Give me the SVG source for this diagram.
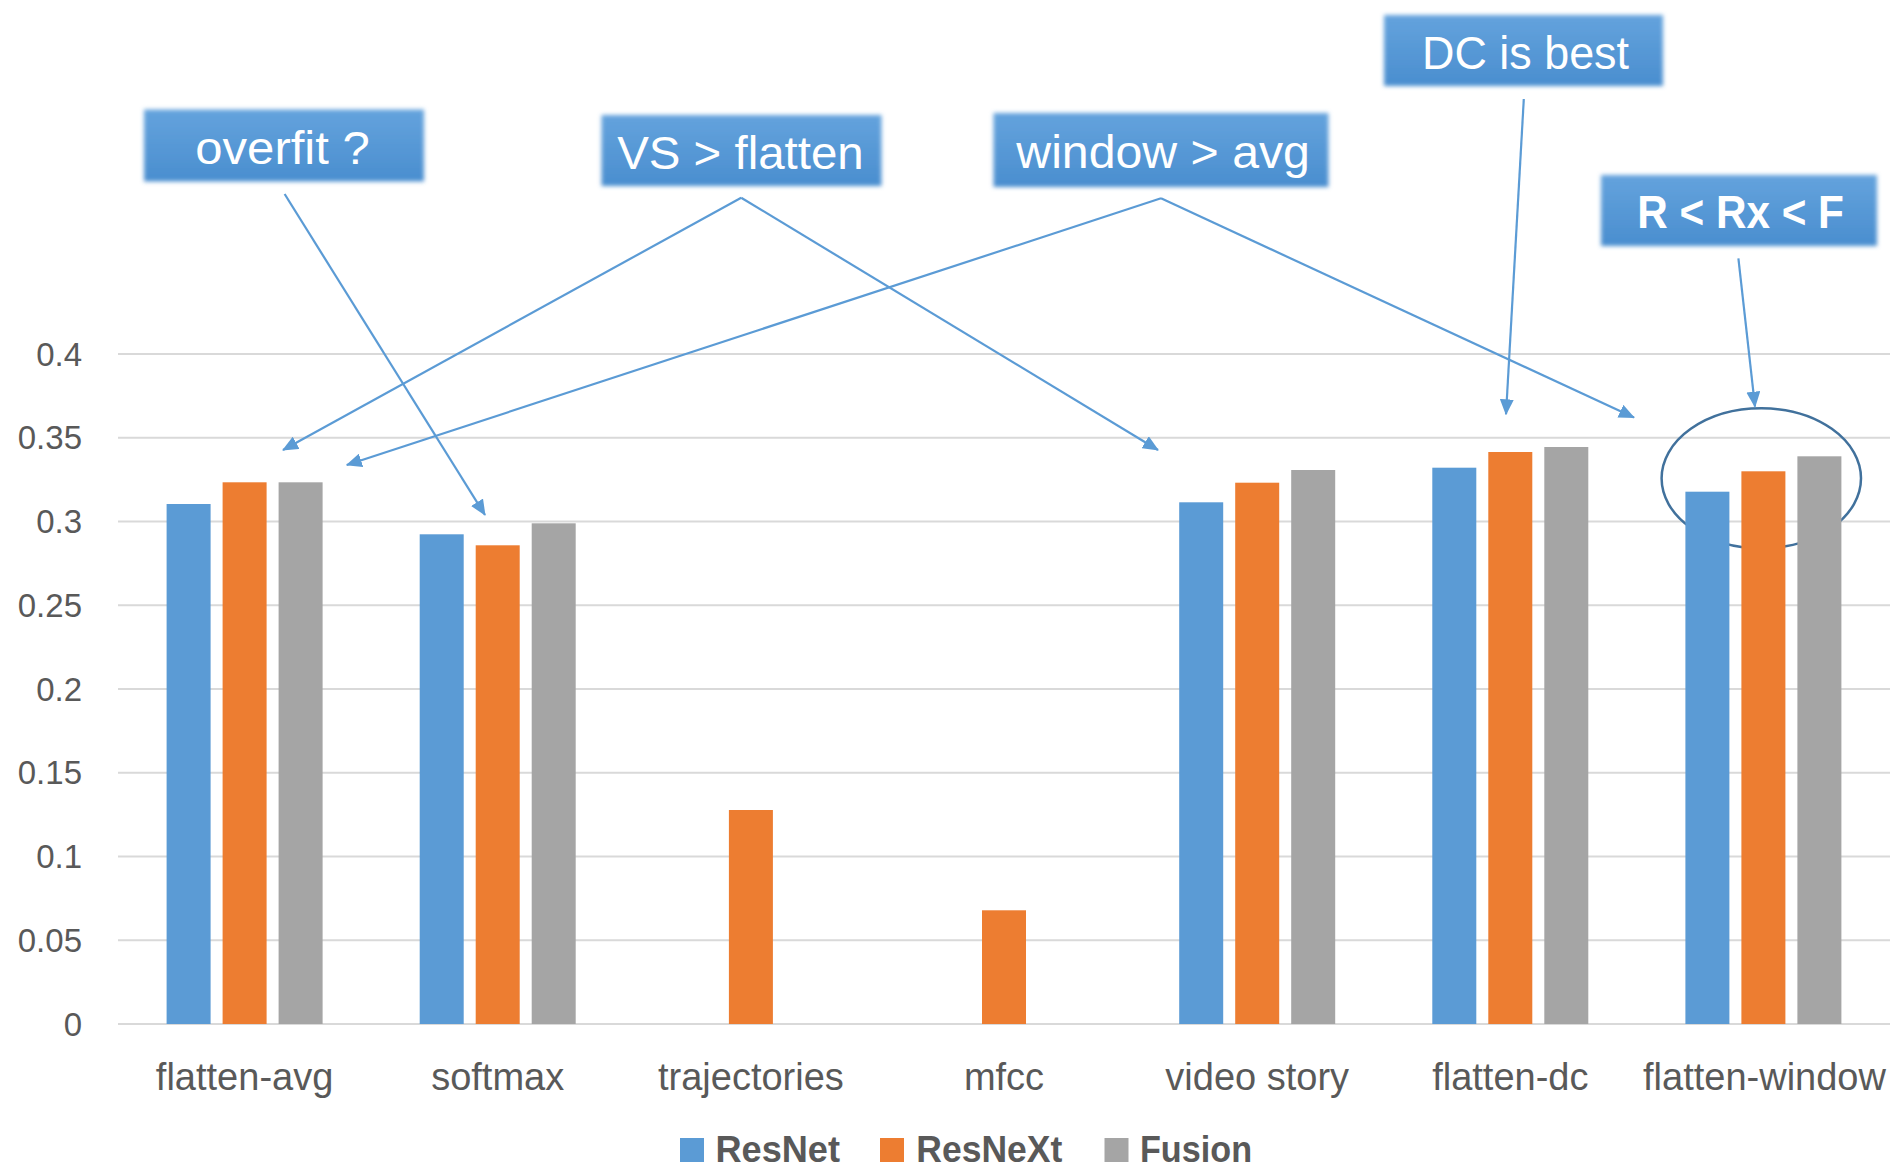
<svg xmlns="http://www.w3.org/2000/svg" width="1895" height="1167" viewBox="0 0 1895 1167">
<style>
.grid{stroke:#D9D9D9;stroke-width:2;fill:none}
.ylab{font-family:"Liberation Sans",Arial,sans-serif;font-size:33px;fill:#595959;text-anchor:end}
.xlab{font-family:"Liberation Sans",Arial,sans-serif;font-size:38px;fill:#595959;text-anchor:middle}
.leg{font-family:"Liberation Sans",Arial,sans-serif;font-size:36px;font-weight:bold;fill:#595959}
.b{fill:#5B9BD5}
.o{fill:#ED7D31}
.g{fill:#A5A5A5}
.box{fill:url(#boxgrad);filter:url(#soft)}
.ctext{font-family:"Liberation Sans",Arial,sans-serif;font-size:46px;fill:#FFFFFF}
.conn{stroke:#5B9BD5;stroke-width:2.2;fill:none;marker-end:url(#arrow)}
</style>
<defs>
<linearGradient id="boxgrad" x1="0" y1="0" x2="0" y2="1">
<stop offset="0" stop-color="#64A3DD"/>
<stop offset="1" stop-color="#4A8ECF"/>
</linearGradient>
<filter id="soft" x="-10%" y="-20%" width="120%" height="140%">
<feGaussianBlur stdDeviation="2"/>
</filter>
<marker id="arrow" markerUnits="userSpaceOnUse" markerWidth="16" markerHeight="14" viewBox="0 0 16 14" refX="15" refY="7" orient="auto">
<path d="M0,0 L16,7 L0,14 z" fill="#5B9BD5"/>
</marker>
</defs>
<rect x="0" y="0" width="1895" height="1167" fill="#FFFFFF"/>
<g id="gridlines">
<line class="grid" x1="118" y1="354" x2="1890" y2="354"/>
<line class="grid" x1="118" y1="437.75" x2="1890" y2="437.75"/>
<line class="grid" x1="118" y1="521.5" x2="1890" y2="521.5"/>
<line class="grid" x1="118" y1="605.25" x2="1890" y2="605.25"/>
<line class="grid" x1="118" y1="689" x2="1890" y2="689"/>
<line class="grid" x1="118" y1="772.75" x2="1890" y2="772.75"/>
<line class="grid" x1="118" y1="856.5" x2="1890" y2="856.5"/>
<line class="grid" x1="118" y1="940.25" x2="1890" y2="940.25"/>
<line class="grid" x1="118" y1="1024" x2="1890" y2="1024"/>
</g>
<g id="y-axis-labels">
<text class="ylab" x="82" y="365.5">0.4</text>
<text class="ylab" x="82" y="449.25">0.35</text>
<text class="ylab" x="82" y="533">0.3</text>
<text class="ylab" x="82" y="616.75">0.25</text>
<text class="ylab" x="82" y="700.5">0.2</text>
<text class="ylab" x="82" y="784.25">0.15</text>
<text class="ylab" x="82" y="868">0.1</text>
<text class="ylab" x="82" y="951.75">0.05</text>
<text class="ylab" x="82" y="1035.5">0</text>
</g>
<g id="highlight-ellipse">
<ellipse cx="1761.3" cy="478.3" rx="99.7" ry="70" fill="none" stroke="#41719C" stroke-width="2.5"/>
</g>
<g id="bars">
<g id="cat-flatten-avg">
<rect class="b" x="166.6" y="504" width="44" height="520"/>
<rect class="o" x="222.6" y="482.3" width="44" height="541.7"/>
<rect class="g" x="278.6" y="482.3" width="44" height="541.7"/>
</g>
<g id="cat-softmax">
<rect class="b" x="419.7" y="534.3" width="44" height="489.7"/>
<rect class="o" x="475.7" y="545.3" width="44" height="478.7"/>
<rect class="g" x="531.7" y="523.3" width="44" height="500.7"/>
</g>
<g id="cat-trajectories">
<rect class="o" x="728.9" y="810" width="44" height="214"/>
</g>
<g id="cat-mfcc">
<rect class="o" x="982" y="910.3" width="44" height="113.7"/>
</g>
<g id="cat-video-story">
<rect class="b" x="1179.2" y="502.3" width="44" height="521.7"/>
<rect class="o" x="1235.2" y="482.7" width="44" height="541.3"/>
<rect class="g" x="1291.2" y="470" width="44" height="554"/>
</g>
<g id="cat-flatten-dc">
<rect class="b" x="1432.3" y="467.7" width="44" height="556.3"/>
<rect class="o" x="1488.3" y="452" width="44" height="572"/>
<rect class="g" x="1544.3" y="447" width="44" height="577"/>
</g>
<g id="cat-flatten-window">
<rect class="b" x="1685.4" y="491.7" width="44" height="532.3"/>
<rect class="o" x="1741.4" y="471.3" width="44" height="552.7"/>
<rect class="g" x="1797.4" y="456.3" width="44" height="567.7"/>
</g>
</g>
<g id="x-axis-labels">
<text class="xlab" x="244.6" y="1090">flatten-avg</text>
<text class="xlab" x="497.7" y="1090">softmax</text>
<text class="xlab" x="750.9" y="1090">trajectories</text>
<text class="xlab" x="1004" y="1090">mfcc</text>
<text class="xlab" x="1257.2" y="1090">video story</text>
<text class="xlab" x="1510.3" y="1090">flatten-dc</text>
<text class="xlab" x="1764.5" y="1090">flatten-window</text>
</g>
<g id="connectors">
<line class="conn" x1="284.6" y1="194" x2="485" y2="515"/>
<line class="conn" x1="741.2" y1="197.7" x2="283" y2="450"/>
<line class="conn" x1="741.2" y1="197.7" x2="1158" y2="450"/>
<line class="conn" x1="1161" y1="198.3" x2="346.8" y2="465"/>
<line class="conn" x1="1161" y1="198.3" x2="1634" y2="417.5"/>
<line class="conn" x1="1523.8" y1="99" x2="1506" y2="414.3"/>
<line class="conn" x1="1738.4" y1="258.3" x2="1755" y2="406.7"/>
</g>
<g id="callout-overfit">
<rect class="box" x="144" y="109.5" width="280" height="72"/>
<text class="ctext" x="195.3" y="164" textLength="174.5" lengthAdjust="spacingAndGlyphs">overfit ?</text>
</g>
<g id="callout-vs-flatten">
<rect class="box" x="601.5" y="115" width="280" height="71"/>
<text class="ctext" x="617.2" y="169" textLength="246.5" lengthAdjust="spacingAndGlyphs">VS &gt; flatten</text>
</g>
<g id="callout-window-avg">
<rect class="box" x="993.5" y="113" width="335" height="74"/>
<text class="ctext" x="1016.3" y="168.3" textLength="293.6" lengthAdjust="spacingAndGlyphs">window &gt; avg</text>
</g>
<g id="callout-dc-best">
<rect class="box" x="1384" y="15" width="279" height="71"/>
<text class="ctext" x="1422" y="69" textLength="207" lengthAdjust="spacingAndGlyphs">DC is best</text>
</g>
<g id="callout-r-rx-f">
<rect class="box" x="1601" y="175" width="276" height="71"/>
<text class="ctext" x="1637.2" y="228.3" font-weight="bold" textLength="206.7" lengthAdjust="spacingAndGlyphs">R &lt; Rx &lt; F</text>
</g>
<g id="legend">
<rect class="b" x="680" y="1138" width="24" height="24"/>
<text class="leg" x="715.5" y="1162" textLength="124.5" lengthAdjust="spacingAndGlyphs">ResNet</text>
<rect class="o" x="880" y="1138" width="24" height="24"/>
<text class="leg" x="916.3" y="1162" textLength="146" lengthAdjust="spacingAndGlyphs">ResNeXt</text>
<rect class="g" x="1104.5" y="1138" width="24" height="24"/>
<text class="leg" x="1140" y="1162" textLength="112" lengthAdjust="spacingAndGlyphs">Fusion</text>
</g>
</svg>
